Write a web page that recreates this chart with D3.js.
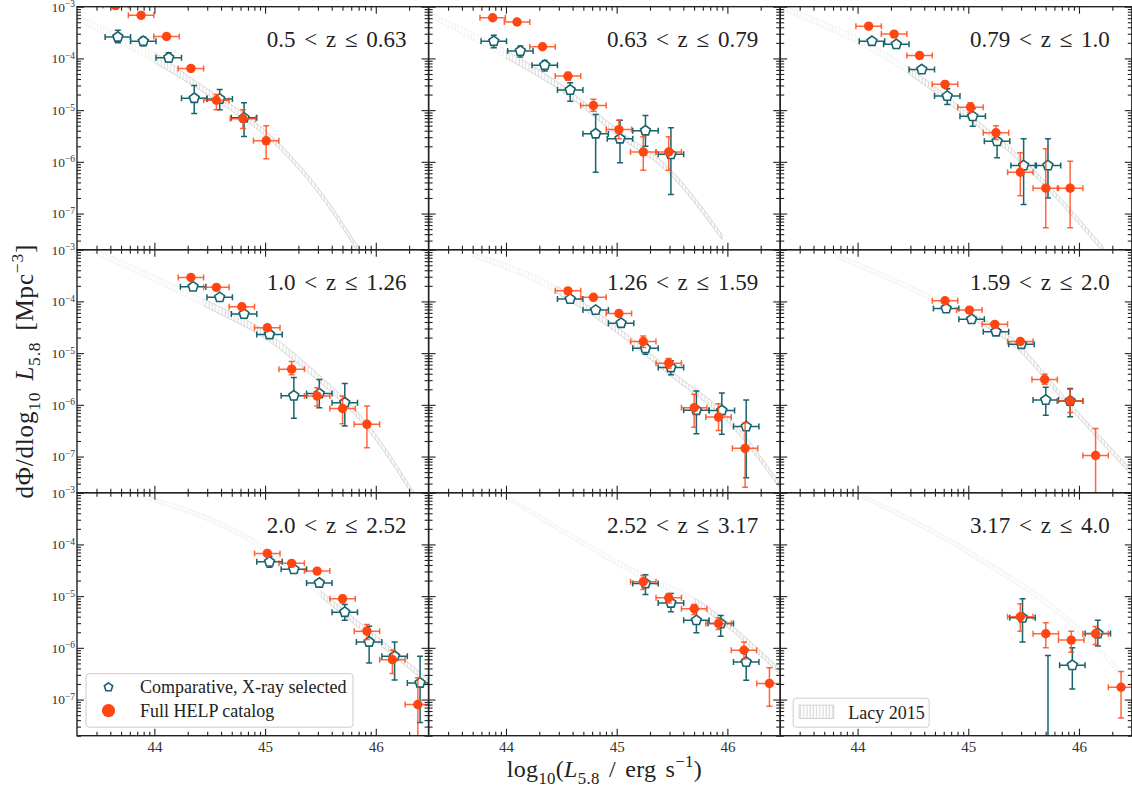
<!DOCTYPE html>
<html><head><meta charset="utf-8">
<script src="https://cdn.jsdelivr.net/npm/d3@7"></script>
<style>
body{margin:0;background:#fff;}
svg{display:block;font-family:"Liberation Serif","DejaVu Serif",serif;}
</style></head><body>
<svg id="c" width="1132" height="791"></svg>
<script>
// ---------------- DATA ----------------
const zLabels = ["0.5 < z \u2264 0.63","0.63 < z \u2264 0.79","0.79 < z \u2264 1.0",
                 "1.0 < z \u2264 1.26","1.26 < z \u2264 1.59","1.59 < z \u2264 2.0",
                 "2.0 < z \u2264 2.52","2.52 < z \u2264 3.17","3.17 < z \u2264 4.0"];
const xTickLabels = [44, 45, 46];
const yTickExponents = [-7, -6, -5, -4, -3];
const binHalfWidth = 0.115;

// Full HELP catalog (log10 L5.8, phi, lower, upper)
const helpLogL = [
 [43.65, 43.88, 44.11, 44.33, 44.56, 44.80, 45.01],
 [43.88, 44.10, 44.33, 44.56, 44.79, 45.02, 45.24, 45.47],
 [44.10, 44.33, 44.56, 44.79, 45.02, 45.25, 45.47, 45.70, 45.92],
 [44.33, 44.56, 44.79, 45.02, 45.24, 45.47, 45.70, 45.92],
 [44.56, 44.79, 45.02, 45.24, 45.47, 45.70, 45.92, 46.16],
 [44.79, 45.01, 45.24, 45.47, 45.69, 45.92, 46.15],
 [45.02, 45.24, 45.47, 45.70, 45.92, 46.15, 46.38],
 [45.24, 45.47, 45.70, 45.92, 46.15, 46.38],
 [45.47, 45.70, 45.93, 46.15, 46.38]
];
const helpPhi = [
 [1.05e-3, 6.8e-4, 2.65e-4, 6.4e-5, 1.55e-5, 6.8e-6, 2.55e-6],
 [6.1e-4, 5.05e-4, 1.68e-4, 4.55e-5, 1.23e-5, 4.2e-6, 1.55e-6, 1.55e-6],
 [4.2e-4, 2.95e-4, 1.14e-4, 3.15e-5, 1.14e-5, 3.65e-6, 6.3e-7, 3.1e-7, 3.1e-7],
 [2.9e-4, 1.87e-4, 7.9e-5, 3.1e-5, 4.9e-6, 1.48e-6, 8.5e-7, 4.2e-7],
 [1.6e-4, 1.2e-4, 5.85e-5, 1.68e-5, 6.4e-6, 8.8e-7, 5.8e-7, 1.44e-7],
 [1.03e-4, 6.8e-5, 3.6e-5, 1.68e-5, 3.1e-6, 1.19e-6, 1.05e-7],
 [6.7e-5, 4.3e-5, 3.05e-5, 8.9e-6, 2.1e-6, 5.9e-7, 8e-8],
 [1.9e-5, 9.3e-6, 5.7e-6, 2.95e-6, 9.0e-7, 2.05e-7],
 [4.0e-6, 1.87e-6, 1.41e-6, 1.87e-6, 1.73e-7]
];
const helpLo = [
 [9.5e-4, 6.2e-4, 2.45e-4, 5.6e-5, 1.02e-5, 4.4e-6, 1.15e-6],
 [5.6e-4, 4.6e-4, 1.52e-4, 3.8e-5, 9.5e-6, 2.8e-6, 6.9e-7, 6.9e-7],
 [3.8e-4, 2.65e-4, 1.0e-4, 2.75e-5, 9.1e-6, 2.7e-6, 2.2e-7, 5.3e-8, 5.3e-8],
 [2.6e-4, 1.7e-4, 7.0e-5, 2.75e-5, 3.8e-6, 9.5e-7, 4.3e-7, 1.48e-7],
 [1.45e-4, 1.1e-4, 5.3e-5, 1.28e-5, 5.1e-6, 3.7e-7, 3.2e-7, 2.55e-8],
 [9.3e-5, 6.1e-5, 3.25e-5, 1.52e-5, 2.5e-6, 7.1e-7, 5e-9],
 [6.0e-5, 3.9e-5, 2.75e-5, 7.4e-6, 1.45e-6, 3.2e-7, 5e-9],
 [1.35e-5, 7.4e-6, 4.4e-6, 2.26e-6, 6.1e-7, 7.4e-8],
 [2.1e-6, 1.0e-6, 8.2e-7, 1.16e-6, 4.4e-8]
];
const helpHi = [
 [1.15e-3, 7.4e-4, 2.85e-4, 7.2e-5, 2.0e-5, 1.02e-5, 5.0e-6],
 [6.6e-4, 5.5e-4, 1.85e-4, 5.4e-5, 1.62e-5, 6.4e-6, 3.05e-6, 3.05e-6],
 [4.6e-4, 3.25e-4, 1.28e-4, 3.6e-5, 1.39e-5, 5.0e-6, 1.5e-6, 1.79e-6, 1.03e-6],
 [3.2e-4, 2.05e-4, 8.9e-5, 3.5e-5, 6.9e-6, 2.15e-6, 1.48e-6, 9.5e-7],
 [1.75e-4, 1.3e-4, 6.5e-5, 2.15e-5, 7.85e-6, 1.6e-6, 1.05e-6, 4.5e-7],
 [1.14e-4, 7.5e-5, 4.0e-5, 1.86e-5, 3.9e-6, 2.0e-6, 3.5e-7],
 [7.5e-5, 4.7e-5, 3.4e-5, 1.03e-5, 2.83e-6, 9.0e-7, 2.63e-7],
 [2.5e-5, 1.13e-5, 6.9e-6, 3.8e-6, 1.29e-6, 4.1e-7],
 [7.1e-6, 3.05e-6, 2.1e-6, 2.6e-6, 3.5e-7]
];

// Comparative, X-ray selected
const xrayLogL = [
 [43.67, 43.90, 44.13, 44.36, 44.59, 44.81],
 [43.89, 44.13, 44.35, 44.58, 44.81, 45.03, 45.26, 45.49],
 [44.13, 44.35, 44.58, 44.81, 45.04, 45.26, 45.50, 45.72],
 [44.35, 44.59, 44.81, 45.04, 45.26, 45.49, 45.72],
 [44.58, 44.81, 45.04, 45.26, 45.49, 45.72, 45.95, 46.17],
 [44.80, 45.03, 45.25, 45.48, 45.70, 45.92],
 [45.04, 45.26, 45.49, 45.72, 45.94, 46.17, 46.40],
 [45.26, 45.49, 45.72, 45.94, 46.17],
 [45.49, 45.72, 45.94, 46.17]
];
const xrayPhi = [
 [2.6e-4, 2.15e-4, 1.03e-4, 1.7e-5, 1.65e-5, 7.1e-6],
 [2.15e-4, 1.39e-4, 7.4e-5, 2.45e-5, 3.5e-6, 2.8e-6, 4.0e-6, 1.4e-6],
 [2.15e-4, 1.87e-4, 6.1e-5, 1.87e-5, 7.6e-6, 2.5e-6, 8.5e-7, 8.5e-7],
 [1.92e-4, 1.2e-4, 5.7e-5, 2.3e-5, 1.5e-6, 1.65e-6, 1.1e-6],
 [1.11e-4, 6.8e-5, 3.8e-5, 1.24e-5, 5.3e-6, 7.9e-7, 7.8e-7, 3.8e-7],
 [7.3e-5, 4.5e-5, 2.6e-5, 1.49e-5, 1.24e-6, 1.19e-6],
 [4.6e-5, 3.3e-5, 1.8e-5, 4.9e-6, 1.3e-6, 6.9e-7, 2.1e-7],
 [1.76e-5, 7.4e-6, 3.4e-6, 2.95e-6, 5.3e-7],
 [3.8e-6, 1e-8, 4.6e-7, 1.9e-6]
];
const xrayLo = [
 [2.0e-4, 1.75e-4, 8.5e-5, 8.6e-6, 1.02e-5, 3.1e-6],
 [1.61e-4, 1.06e-4, 5.7e-5, 1.49e-5, 6.3e-7, 9.6e-7, 2.0e-6, 2.33e-7],
 [1.95e-4, 1.7e-4, 5.3e-5, 1.29e-5, 4.9e-6, 1.2e-6, 1.5e-7, 2.0e-7],
 [1.75e-4, 1.08e-4, 5.0e-5, 1.95e-5, 5.5e-7, 8.8e-7, 3.9e-7],
 [1.0e-4, 6.1e-5, 3.4e-5, 9.5e-6, 3.8e-6, 2.77e-7, 2.7e-7, 3.9e-8],
 [6.6e-5, 4.05e-5, 2.35e-5, 1.35e-5, 6.3e-7, 5.9e-7],
 [3.6e-5, 2.95e-5, 1.6e-5, 3.4e-6, 5.1e-7, 2.4e-7, 3.6e-8],
 [1.08e-5, 5.0e-6, 1.95e-6, 1.68e-6, 2.37e-7],
 [1.29e-6, 1e-9, 1.6e-7, 1.08e-6]
];
const xrayHi = [
 [3.5e-4, 2.6e-4, 1.29e-4, 3.0e-5, 2.5e-5, 1.39e-5],
 [2.79e-4, 1.73e-4, 9.1e-5, 3.4e-5, 8.2e-6, 6.4e-6, 7.9e-6, 4.56e-6],
 [2.4e-4, 2.1e-4, 7.0e-5, 2.6e-5, 1.06e-5, 3.9e-6, 2.8e-6, 2.8e-6],
 [2.1e-4, 1.33e-4, 6.5e-5, 2.7e-5, 3.37e-6, 3.1e-6, 2.58e-6],
 [1.23e-4, 7.6e-5, 4.3e-5, 1.49e-5, 7.1e-6, 1.85e-6, 1.7e-6, 1.24e-6],
 [8.1e-5, 5.0e-5, 2.9e-5, 1.65e-5, 2.2e-6, 2.06e-6],
 [5.9e-5, 3.7e-5, 2.05e-5, 6.9e-6, 2.62e-6, 1.29e-6, 6.9e-7],
 [2.6e-5, 1.13e-5, 5.5e-6, 4.2e-6, 9.3e-7],
 [8.9e-6, 7.1e-7, 1.0e-6, 3.4e-6]
];

// Lacy 2015 band (log10 L, log10 phi upper / lower)
const lacyLogL = [
 [43.30, 43.70, 44.00, 44.38, 44.72, 45.02, 45.46, 45.90],
 [43.30, 43.99, 44.56, 45.01, 45.46, 45.95],
 [43.30, 44.45, 44.99, 45.47, 46.22],
 [43.45, 44.44, 45.02, 45.47, 45.92, 46.36],
 [43.70, 44.41, 45.01, 45.52, 45.98, 46.47],
 [43.80, 44.63, 45.44, 45.92, 46.47],
 [43.90, 44.92, 45.61, 46.06, 46.47],
 [44.00, 45.07, 45.82, 46.47],
 [44.05, 45.08, 45.98, 46.47]
];
const lacyHi = [
 [-3.16, -3.55, -3.88, -4.45, -4.93, -5.43, -6.45, -7.85],
 [-3.10, -3.83, -4.60, -5.38, -6.09, -7.40],
 [-2.95, -4.15, -5.05, -5.90, -7.65],
 [-2.97, -3.95, -4.60, -5.39, -6.35, -7.75],
 [-3.06, -3.65, -4.50, -5.39, -6.17, -7.50],
 [-3.07, -3.85, -4.80, -5.97, -7.25],
 [-3.04, -3.93, -5.09, -5.87, -6.60],
 [-3.04, -4.38, -5.20, -6.40],
 [-3.04, -4.20, -5.56, -6.65]
];
const lacyLo = [
 [-3.26, -3.72, -4.08, -4.57, -5.05, -5.53, -6.55, -7.95],
 [-3.20, -3.98, -4.72, -5.50, -6.20, -7.50],
 [-3.05, -4.28, -5.15, -6.00, -7.75],
 [-3.07, -4.08, -4.75, -5.52, -6.46, -7.85],
 [-3.14, -3.78, -4.62, -5.50, -6.28, -7.60],
 [-3.15, -3.95, -4.92, -6.07, -7.35],
 [-3.11, -4.03, -5.20, -5.98, -6.70],
 [-3.11, -4.48, -5.31, -6.50],
 [-3.11, -4.30, -5.67, -6.75]
];
const lacySplit = [44.0, 44.0, 44.45, 44.44, 44.45, 45.0, 45.5, 45.7, 46.5];

// ---------------- LAYOUT / STYLE ----------------
const TEAL = "#17636e", ORANGE = "#ff4512", INK = "#222";
const LEFT = 77, TOP = 6.7, W = 351.6, H = 243;
const svg = d3.select("#c");

const x = d3.scaleLinear().domain([Math.log10(2e43), Math.log10(3e46)]).range([0, W]);
const y = d3.scaleLog().domain([2e-8, 1e-3]).range([H, 0]);

const xMajor = xTickLabels.slice();
const xMinor = [];
[43,44,45,46].forEach(n => { for (let k = 2; k <= 9; k++) { const v = n + Math.log10(k); if (v > x.domain()[0] && v < x.domain()[1]) xMinor.push(v); } });
const yMajor = yTickExponents.map(e => Math.pow(10, e));
const yMinor = [];
[-8,-7,-6,-5,-4].forEach(n => { for (let k = 2; k <= 9; k++) { const v = k * Math.pow(10, n); if (v >= 2e-8 && v < 1e-3) yMinor.push(v); } });

const defs = svg.append("defs");
const pat = defs.append("pattern").attr("id","hatch").attr("patternUnits","userSpaceOnUse")
  .attr("width",3.2).attr("height",10);
pat.append("line").attr("x1",1).attr("x2",1).attr("y1",0).attr("y2",10)
  .attr("stroke","#9a9a9a").attr("stroke-width",0.8);

const symbolPentagon = {
  draw(ctx, size) {
    const r = Math.sqrt(size / (2.5 * Math.sin(2 * Math.PI / 5)));
    for (let k = 0; k < 5; k++) {
      const a = -Math.PI / 2 + k * 2 * Math.PI / 5;
      const px = r * Math.cos(a), py = r * Math.sin(a);
      if (k) ctx.lineTo(px, py); else ctx.moveTo(px, py);
    }
    ctx.closePath();
  }
};

function rich(textSel, parts, fs) {
  let cur = 0;
  parts.forEach(p => {
    const target = p.sub ? 0.28 * fs : p.sup ? -0.42 * fs : 0;
    const ts = textSel.append("tspan").text(p.t).attr("dy", target - cur);
    if (p.sub || p.sup) ts.attr("font-size", fs * 0.7);
    if (p.i) ts.attr("font-style", "italic");
    cur = target;
  });
}

const area = d3.area().curve(d3.curveMonotoneX)
  .x(d => x(d.l)).y0(d => y(Math.pow(10, d.lo))).y1(d => y(Math.pow(10, d.hi)));

function errorBars(g, logL, phi, lo, hi, color, opacity) {
  const cap = 3;
  const eg = g.append("g").attr("stroke", color).attr("stroke-width", 1.5).attr("fill", "none").attr("stroke-opacity", opacity);
  logL.forEach((l, i) => {
    const cx = x(l), cy = y(phi[i]), y0 = y(lo[i]), y1 = y(hi[i]);
    const xa = x(l - binHalfWidth), xb = x(l + binHalfWidth);
    eg.append("line").attr("x1", cx).attr("x2", cx).attr("y1", y0).attr("y2", y1);
    eg.append("line").attr("x1", cx - cap).attr("x2", cx + cap).attr("y1", y0).attr("y2", y0);
    eg.append("line").attr("x1", cx - cap).attr("x2", cx + cap).attr("y1", y1).attr("y2", y1);
    eg.append("line").attr("x1", xa).attr("x2", xb).attr("y1", cy).attr("y2", cy);
    eg.append("line").attr("x1", xa).attr("x2", xa).attr("y1", cy - cap).attr("y2", cy + cap);
    eg.append("line").attr("x1", xb).attr("x2", xb).attr("y1", cy - cap).attr("y2", cy + cap);
  });
}

for (let p = 0; p < 9; p++) {
  const col = p % 3, row = Math.floor(p / 3);
  const g = svg.append("g").attr("transform", `translate(${LEFT + col * W},${TOP + row * H})`);
  const cid = "clip" + p;
  defs.append("clipPath").attr("id", cid).append("rect").attr("width", W).attr("height", H);
  defs.append("clipPath").attr("id", cid + "a").append("rect").attr("width", x(lacySplit[p])).attr("height", H);
  defs.append("clipPath").attr("id", cid + "b").append("rect").attr("x", x(lacySplit[p])).attr("width", W).attr("height", H);

  const plot = g.append("g").attr("clip-path", `url(#${cid})`);

  // Lacy 2015 band
  const band = lacyLogL[p].map((l, i) => ({ l, hi: lacyHi[p][i], lo: lacyLo[p][i] }));
  [["a", 0.16], ["b", 0.5]].forEach(([s, op]) => {
    plot.append("g").attr("clip-path", `url(#${cid}${s})`).attr("opacity", op)
      .append("path").datum(band).attr("d", area)
      .attr("fill", "url(#hatch)").attr("stroke", "#b0b0b0").attr("stroke-width", 1);
  });

  // X-ray selected
  errorBars(plot, xrayLogL[p], xrayPhi[p], xrayLo[p], xrayHi[p], TEAL, 1);
  plot.append("g").selectAll("path").data(xrayLogL[p]).join("path")
    .attr("transform", (l, i) => `translate(${x(l)},${y(xrayPhi[p][i])})`)
    .attr("d", d3.symbol().type(symbolPentagon).size(64))
    .attr("fill", "#fff").attr("stroke", TEAL).attr("stroke-width", 1.6);

  // Full HELP
  errorBars(plot, helpLogL[p], helpPhi[p], helpLo[p], helpHi[p], ORANGE, 0.82);
  plot.append("g").selectAll("circle").data(helpLogL[p]).join("circle")
    .attr("cx", l => x(l)).attr("cy", (l, i) => y(helpPhi[p][i])).attr("r", 4.7)
    .attr("fill", ORANGE);

  // frame
  g.append("rect").attr("width", W).attr("height", H).attr("fill", "none")
    .attr("stroke", INK).attr("stroke-width", 1.4);

  // ticks
  const axes = [
    [d3.axisBottom, `translate(0,${H})`, x, xMajor, xMinor],
    [d3.axisTop, null, x, xMajor, xMinor],
    [d3.axisLeft, null, y, yMajor, yMinor],
    [d3.axisRight, `translate(${W},0)`, y, yMajor, yMinor]
  ];
  axes.forEach(([fn, tr, sc, maj, min], ai) => {
    const ag = g.append("g");
    if (tr) ag.attr("transform", tr);
    const mj = ag.append("g").call(fn(sc).tickValues(maj).tickSizeInner(-7).tickSizeOuter(0).tickPadding(ai === 0 ? 6 : 3).tickFormat(() => ""));
    const mn = ag.append("g").call(fn(sc).tickValues(min).tickSizeInner(-4).tickSizeOuter(0).tickFormat(() => ""));
    [mj, mn].forEach(s => { s.select(".domain").remove(); s.selectAll(".tick line").attr("stroke", INK).attr("stroke-width", 1.1); });
    if (ai === 0 && row === 2) {
      mj.selectAll(".tick text").text(d => d).attr("font-size", 15).attr("fill", "#333")
        .attr("font-family", "Liberation Serif");
    }
    if (ai === 2 && col === 0) {
      mj.selectAll(".tick text").each(function (d) {
        const t = d3.select(this).attr("font-size", 13.5).attr("fill", "#333").attr("font-family", "Liberation Serif").attr("x", -2);
        t.text(null);
        t.append("tspan").text("10");
        t.append("tspan").text("\u2212" + Math.round(-Math.log10(d))).attr("dy", "-0.45em").attr("font-size", 9.5);
      });
    }
  });

  // panel title
  g.append("text").attr("x", W - 22).attr("y", 40).attr("text-anchor", "end")
    .attr("font-size", 23).attr("word-spacing", 3).attr("fill", INK).text(zLabels[p]);

  // legends
  if (p === 6) {
    const lg = g.append("g").attr("transform", `translate(9,${H - 62})`);
    lg.append("rect").attr("width", 267).attr("height", 53.5).attr("rx", 3)
      .attr("fill", "#fff").attr("fill-opacity", 0.8).attr("stroke", "#cccccc");
    lg.append("path").attr("transform", "translate(22.5,13.5)")
      .attr("d", d3.symbol().type(symbolPentagon).size(46))
      .attr("fill", "#fff").attr("stroke", TEAL).attr("stroke-width", 1.6);
    lg.append("circle").attr("cx", 22.5).attr("cy", 37).attr("r", 6.6).attr("fill", ORANGE);
    lg.append("text").attr("x", 54).attr("y", 19.5).attr("font-size", 18).attr("fill", INK).text("Comparative, X-ray selected");
    lg.append("text").attr("x", 54).attr("y", 43).attr("font-size", 18).attr("fill", INK).text("Full HELP catalog");
  }
  if (p === 8) {
    const lg = g.append("g").attr("transform", `translate(13,${H - 37.5})`);
    lg.append("rect").attr("width", 136).attr("height", 29).attr("rx", 3)
      .attr("fill", "#fff").attr("fill-opacity", 0.8).attr("stroke", "#cccccc");
    lg.append("rect").attr("x", 6).attr("y", 7).attr("width", 34.5).attr("height", 13.3)
      .attr("fill", "url(#hatch)").attr("stroke", "#b0b0b0").attr("opacity", 0.55);
    lg.append("text").attr("x", 55).attr("y", 20.5).attr("font-size", 18).attr("fill", INK).text("Lacy 2015");
  }
}

// axis labels
const xl = svg.append("text").attr("x", LEFT + 1.5 * W).attr("y", 777).attr("text-anchor", "middle")
  .attr("font-size", 24).attr("letter-spacing", 0.3).attr("word-spacing", 3).attr("fill", INK);
rich(xl, [{t:"log"},{t:"10",sub:true},{t:"("},{t:"L",i:true},{t:"5.8",sub:true},{t:" / erg s"},{t:"\u22121",sup:true},{t:")"}], 24);

const yl = svg.append("text").attr("transform", `translate(33,${TOP + 1.5 * H}) rotate(-90)`).attr("text-anchor", "middle")
  .attr("font-size", 25).attr("letter-spacing", 0.8).attr("word-spacing", 4).attr("fill", INK);
rich(yl, [{t:"d\u03a6/dlog"},{t:"10",sub:true},{t:" "},{t:"L",i:true},{t:"5.8",sub:true},{t:" [Mpc"},{t:"\u22123",sup:true},{t:"]"}], 25);
</script>
</body></html>
